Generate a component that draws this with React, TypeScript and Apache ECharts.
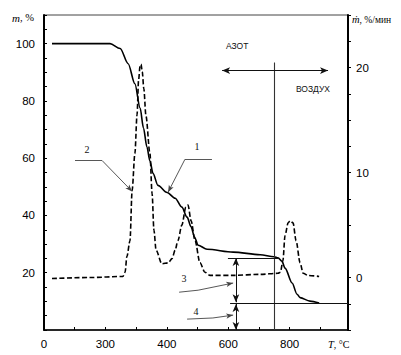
import React, { useEffect, useRef } from "react";
import * as echarts from "echarts";

// Temperature, °C  -> mass, %
const massT = [26, 150, 215, 248, 274, 296, 313, 324, 335, 345, 355, 371, 401, 427, 449, 466, 479, 490, 502, 531, 616, 704, 749, 762, 775, 785, 808, 824, 834, 866, 896];
const massPct = [100, 100, 100, 98.3, 93, 86, 77.5, 70.5, 64, 59, 54.7, 50.5, 48, 46, 42.9, 39.4, 36, 32.5, 29.6, 28.2, 27.2, 26.3, 25.6, 25.2, 24, 21.6, 16.4, 12.5, 11.3, 10.1, 9.4];

// Temperature, °C -> mass-loss rate, %/мин
const dtgT = [26, 150, 257, 264, 270, 280, 287, 296, 303, 308, 313, 316, 320, 325, 332, 345, 352, 358, 365, 384, 405, 417, 427, 436, 449, 462, 469, 479, 492, 508, 524, 541, 616, 704, 762, 770, 778, 785, 795, 801, 811, 821, 834, 844, 860, 896];
const dtgRate = [-0.1, 0, 0.1, 0.5, 2, 3.5, 8.3, 11.8, 15.5, 18.8, 20.2, 20.3, 19.6, 18, 15.4, 11.8, 8, 4.5, 2.6, 1.3, 1.4, 1.8, 2.6, 3.5, 5, 6.7, 6.9, 5.4, 3.5, 1.4, 0.5, 0.2, 0.2, 0.3, 0.4, 0.5, 1.6, 4, 5.2, 5.4, 5.2, 3.5, 1.4, 0.4, 0.2, 0.1];

// x tick labels as printed (value -> text)
const xTickValues = [0, 200, 400, 600, 800];
const xTickLabels = ["0", "300", "400", "600", "800"];
const leftTickLabels = [20, 40, 60, 80, 100];
const rightTickLabels = [0, 10, 20];

// annotations (data coordinates: T, mass %)
const switchT = 749;
const residueLevel = 9.4;
const plateauLevel = 25.1;
const arrowT = 625;

const FONT = "Liberation Sans, Arial, sans-serif";
const SERIF = "Liberation Serif, Times New Roman, serif";

export default function App() {
  const ref = useRef<HTMLDivElement>(null);
  useEffect(() => {
    if (!ref.current) return;
    const chart = echarts.init(ref.current, null, { renderer: "svg" });
    const arrowSym = { symbol: "arrow", symbolSize: [5, 8] };
    const smallArrow = { symbol: "arrow", symbolSize: [4, 7] };
    const none = { symbol: "none" };
    const leaderStyle = { color: "#444", width: 0.9, type: "solid" };
    const blackStyle = { color: "#111", width: 1, type: "solid" };
    const seg = (a: number[], b: number[], s1: any, s2: any, style: any) => [
      { coord: a, ...s1, lineStyle: style },
      { coord: b, ...s2 },
    ];
    const textPt = (name: string, t: number, v: number, fs: number, fam: string) => ({
      name,
      coord: [t, v],
      symbol: "rect",
      symbolSize: 1,
      itemStyle: { color: "rgba(0,0,0,0)" },
      label: { show: true, position: "inside", formatter: name, fontSize: fs, fontFamily: fam, color: "#111" },
    });

    const option: any = {
      animation: false,
      backgroundColor: "#fff",
      grid: { left: 44, right: 53, top: 15, bottom: 25, show: true, borderColor: "#444", borderWidth: 1, outerBoundsMode: "none" },
      xAxis: {
        type: "value",
        min: 0,
        max: 990,
        interval: 100,
        axisLine: { show: true, lineStyle: { color: "#000", width: 1.5 } },
        axisTick: { show: true, inside: true, length: 3, lineStyle: { color: "#000" } },
        splitLine: { show: false },
        axisLabel: {
          margin: 8,
          fontSize: 11.5,
          fontFamily: FONT,
          color: "#000",
          formatter: (v: number) => {
            const i = xTickValues.indexOf(v);
            return i >= 0 ? xTickLabels[i] : "";
          },
        },
      },
      yAxis: [
        {
          type: "value",
          min: 0,
          max: 110,
          interval: 5,
          position: "left",
          axisLine: { show: true, lineStyle: { color: "#000", width: 2 } },
          axisTick: { show: true, inside: true, length: 3, lineStyle: { color: "#000" } },
          splitLine: { show: false },
          axisLabel: {
            margin: 9,
            fontSize: 11.5,
            fontFamily: FONT,
            color: "#000",
            formatter: (v: number) => (leftTickLabels.indexOf(v) >= 0 ? String(v) : ""),
          },
        },
        {
          type: "value",
          min: -5,
          max: 25,
          interval: 2.5,
          position: "right",
          axisLine: { show: true, lineStyle: { color: "#000", width: 2 } },
          axisTick: { show: true, inside: false, length: 3, lineStyle: { color: "#000" } },
          splitLine: { show: false },
          axisLabel: {
            margin: 8,
            fontSize: 11.5,
            fontFamily: FONT,
            color: "#000",
            formatter: (v: number) => (rightTickLabels.indexOf(v) >= 0 ? String(v) : ""),
          },
        },
      ],
      series: [
        {
          name: "mass",
          type: "line",
          yAxisIndex: 0,
          data: massT.map((t, i) => [t, massPct[i]]),
          showSymbol: false,
          smooth: 0.3,
          smoothMonotone: "x",
          lineStyle: { color: "#000", width: 1.6 },
          z: 3,
          markLine: {
            silent: true,
            label: { show: false },
            emphasis: { disabled: true },
            data: [
              seg([switchT, 93.4], [switchT, 0], none, none, { color: "#333", width: 1.1, type: "solid" }),
              seg([580, 90.6], [925, 90.6], arrowSym, arrowSym, blackStyle),
              seg([606, residueLevel], [990, residueLevel], none, none, blackStyle),
              seg([599, plateauLevel], [765, plateauLevel], none, none, blackStyle),
              seg([arrowT, plateauLevel], [arrowT, residueLevel + 0.3], arrowSym, arrowSym, blackStyle),
              seg([arrowT, residueLevel - 0.3], [arrowT, 0], arrowSym, arrowSym, blackStyle),
              seg([101, 59.2], [189, 59.2], none, none, leaderStyle),
              seg([189, 59.2], [287, 48.4], none, smallArrow, leaderStyle),
              seg([459, 59.6], [547, 59.6], none, none, leaderStyle),
              seg([459, 59.6], [404, 48.1], none, smallArrow, leaderStyle),
              seg([440, 13.2], [502, 13.9], none, none, leaderStyle),
              seg([502, 13.9], [616, 16.4], none, smallArrow, leaderStyle),
              seg([466, 3.8], [550, 4.2], none, none, leaderStyle),
              seg([550, 4.2], [616, 5.2], none, smallArrow, leaderStyle),
            ],
          },
          markPoint: {
            silent: true,
            data: [
              textPt("АЗОТ", 629, 99.3, 8.5, FONT),
              textPt("ВОЗДУХ", 876, 84.3, 8.5, FONT),
              textPt("1", 498, 64.1, 10, SERIF),
              textPt("2", 140, 63.1, 10, SERIF),
              textPt("3", 456, 18.1, 10, SERIF),
              textPt("4", 495, 6.6, 10, SERIF),
            ],
          },
        },
        {
          name: "rate",
          type: "line",
          yAxisIndex: 1,
          data: dtgT.map((t, i) => [t, dtgRate[i]]),
          showSymbol: false,
          smooth: 0.3,
          smoothMonotone: "x",
          lineStyle: { color: "#000", width: 1.6, type: [5, 2.5] },
          z: 2,
        },
      ],
      graphic: [
        {
          type: "text",
          left: 12,
          top: 12,
          style: {
            text: "{i|m}, %",
            fontFamily: SERIF,
            fontSize: 10.5,
            fill: "#000",
            rich: { i: { fontStyle: "italic", fontFamily: SERIF, fontSize: 11 } },
          },
        },
        {
          type: "text",
          left: 352,
          top: 14,
          style: {
            text: "{i|ṁ}, %/мин",
            fontFamily: SERIF,
            fontSize: 9.5,
            fill: "#000",
            rich: { i: { fontStyle: "italic", fontFamily: SERIF, fontSize: 10.5 } },
          },
        },
        {
          type: "text",
          left: 328,
          top: 339,
          style: {
            text: "{i|T}, °C",
            fontFamily: SERIF,
            fontSize: 10,
            fill: "#000",
            rich: { i: { fontStyle: "italic", fontFamily: SERIF, fontSize: 10.5 } },
          },
        },
      ],
    };
    chart.setOption(option);
    return () => chart.dispose();
  }, []);
  return <div ref={ref} style={{ position: "fixed", left: 0, top: 0, width: 401, height: 355, background: "#fff" }} />;
}
